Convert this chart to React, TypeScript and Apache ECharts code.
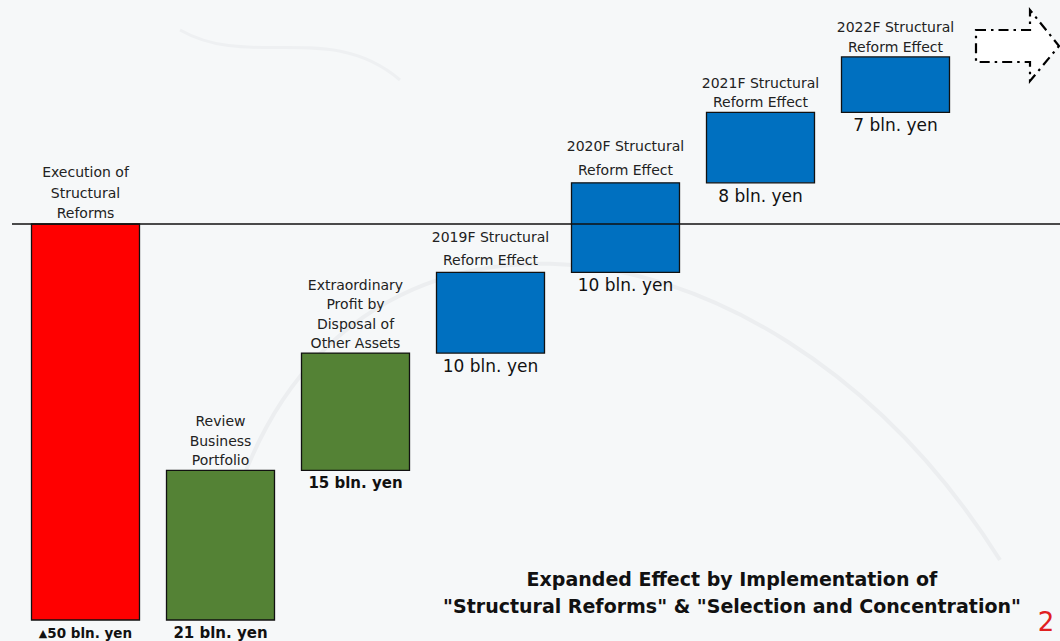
import React, { useEffect, useRef } from "react";
import * as echarts from "echarts";

// ---- data ----
const categories = [
  "Execution of\nStructural\nReforms",
  "Review\nBusiness\nPortfolio",
  "Extraordinary\nProfit by\nDisposal of\nOther Assets",
  "2019F Structural\nReform Effect",
  "2020F Structural\nReform Effect",
  "2021F Structural\nReform Effect",
  "2022F Structural\nReform Effect",
];
// bar start / end (bln. yen, cumulative, as drawn)
const barFrom = [0, -50, -31.1, -16.3, -6.1, 5.2, 14.1];
const barTo = [-50, -31.1, -16.3, -6.1, 5.2, 14.1, 21.1];
const valueLabels = [
  "{tri|▲}50 bln. yen",
  "21 bln. yen",
  "15 bln. yen",
  "10 bln. yen",
  "10 bln. yen",
  "8 bln. yen",
  "7 bln. yen",
];
const barKinds = ["reform", "portfolio", "portfolio", "effect", "effect", "effect", "effect"];
const titleLines = [
  "Expanded Effect by Implementation of",
  "\"Structural Reforms\" & \"Selection and Concentration\"",
];
const pageNumber = "2";

// ---- styles ----
const kindColor: Record<string, string> = {
  reform: "#ff0000",
  portfolio: "#548235",
  effect: "#0070c0",
};
const labelLineHeight = [20.5, 19.5, 19.3, 23, 24, 19.5, 19.5];
const valueBold = [true, true, true, false, false, false, false];
const valueFontSize = [13.5, 15, 15, 17, 17, 17, 17];
const FONT = "'DejaVu Sans', Verdana, sans-serif";

export default function App() {
  const ref = useRef<HTMLDivElement>(null);
  useEffect(() => {
    if (!ref.current) return;
    const chart = echarts.init(ref.current, undefined, { renderer: "svg" });
    const data = categories.map((_, i) => [i, barFrom[i], barTo[i]]);
    chart.setOption({
      animation: false,
      backgroundColor: "#f6f8f9",
      grid: { left: 18, width: 945, top: 26, bottom: 21 },
      xAxis: { type: "category", data: categories, show: false },
      yAxis: { type: "value", min: -50, max: 25, show: false },
      series: [
        {
          type: "custom",
          data,
          z: 5,
          renderItem: (params: any, api: any) => {
            const i = api.value(0);
            const a = api.coord([i, api.value(1)]);
            const b = api.coord([i, api.value(2)]);
            const w = api.size([1, 0])[0] * 0.8;
            const top = Math.min(a[1], b[1]);
            const bot = Math.max(a[1], b[1]);
            const cx = a[0];
            const bold = valueBold[i];
            return {
              type: "group",
              children: [
                {
                  type: "rect",
                  shape: { x: cx - w / 2, y: top, width: w, height: bot - top },
                  style: { fill: kindColor[barKinds[i]], stroke: "#111", lineWidth: 1.3 },
                },
                {
                  type: "text",
                  style: {
                    text: categories[i],
                    x: cx,
                    y: top - 0.5,
                    align: "center",
                    verticalAlign: "bottom",
                    lineHeight: labelLineHeight[i],
                    fontFamily: FONT,
                    fontSize: 14,
                    fill: "#222",
                  },
                },
                {
                  type: "text",
                  style: {
                    text: valueLabels[i],
                    x: cx,
                    y: bot + 13,
                    align: "center",
                    verticalAlign: "middle",
                    fontFamily: FONT,
                    fontSize: valueFontSize[i],
                    fontWeight: bold ? "bold" : "normal",
                    fill: "#111",
                    rich: {
                      tri: { fontSize: 11, fontFamily: FONT, fill: "#111", verticalAlign: "middle" },
                    },
                  },
                },
              ],
            };
          },
        },
      ],
    });
    const y0 = chart.convertToPixel({ yAxisIndex: 0 }, 0) as number;
    chart.setOption({
      graphic: [
        {
          type: "bezierCurve",
          silent: true,
          z: 0,
          shape: { x1: 220, y1: 560, x2: 1000, y2: 560, cpx1: 300, cpy1: 150, cpx2: 760, cpy2: 180 },
          style: { stroke: "#eceef0", lineWidth: 4, fill: null },
        },
        {
          type: "bezierCurve",
          silent: true,
          z: 0,
          shape: { x1: 180, y1: 30, x2: 400, y2: 80, cpx1: 250, cpy1: 70, cpx2: 330, cpy2: 20 },
          style: { stroke: "#eef0f2", lineWidth: 3, fill: null },
        },
        {
          type: "line",
          z: 10,
          shape: { x1: 12, y1: y0, x2: 1060, y2: y0 },
          style: { stroke: "#111", lineWidth: 1.3 },
        },
        {
          type: "polygon",
          z: 10,
          shape: {
            points: [
              [976, 30],
              [1030, 30],
              [1030, 10],
              [1059, 46],
              [1030, 81],
              [1030, 62],
              [976, 62],
            ],
          },
          style: { fill: "#ffffff", stroke: "#000", lineWidth: 2.2, lineDash: [10, 5, 2.5, 5] },
        },
        {
          type: "text",
          z: 10,
          style: {
            text: titleLines.join("\n"),
            x: 732,
            y: 592,
            align: "center",
            verticalAlign: "middle",
            lineHeight: 27,
            fontFamily: "'DejaVu Sans', sans-serif",
            fontWeight: "bold",
            fontSize: 19,
            fill: "#111",
          },
        },
        {
          type: "text",
          z: 10,
          style: {
            text: pageNumber,
            x: 1046,
            y: 622,
            align: "center",
            verticalAlign: "middle",
            fontFamily: "'DejaVu Sans', sans-serif",
            fontSize: 26,
            fill: "#e02020",
          },
        },
      ],
    });
    return () => chart.dispose();
  }, []);
  return (
    <div
      ref={ref}
      style={{ position: "fixed", left: 0, top: 0, width: 1060, height: 641 }}
    />
  );
}
